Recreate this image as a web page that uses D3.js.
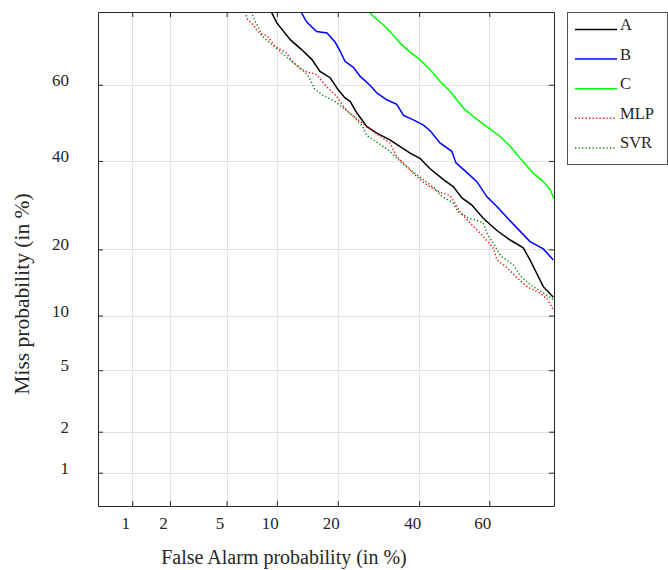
<!DOCTYPE html>
<html><head><meta charset="utf-8">
<script src="https://cdn.jsdelivr.net/npm/d3@7"></script>
<style>body{margin:0;background:#fff}svg{display:block}</style>
</head><body><svg id="c" width="668" height="570"></svg>
<script>
// ---- data (percent) ----
const tickValues = [1, 2, 5, 10, 20, 40, 60];
const tickLabels = ["1", "2", "5", "10", "20", "40", "60"];
const seriesNames = ["A", "B", "C", "MLP", "SVR"];

const A_fa   = [9.3,10.0,11.8,13.5,15.2,16.6,18.5,20.1,21.5,22.6,24.1,26.4,28.8,32.1,34.8,37.5,40.2,43.1,46.9,49.7,52.2,55.0,58.3,62.1,65.7,69.1,70.8,72.4,74.0,76.3];
const A_miss = [77.0,74.7,71.0,68.7,66.3,63.4,61.8,58.7,56.6,55.7,52.6,49.0,47.3,45.5,43.7,42.0,40.7,38.0,35.3,33.6,30.9,29.3,26.3,23.7,21.8,20.3,18.1,15.9,13.8,12.3];

const B_fa   = [13.4,14.3,16.0,17.9,19.5,20.5,21.5,23.3,24.8,27.2,28.8,31.3,33.9,35.7,38.4,41.2,43.1,45.9,49.3,50.5,53.6,56.5,59.3,62.1,64.8,67.4,70.8,74.0,76.3];
const B_miss = [77.0,74.9,72.8,72.5,70.4,68.3,65.9,64.4,62.2,59.8,57.9,56.1,54.9,52.0,50.8,49.4,47.9,44.7,42.5,39.5,37.1,34.8,31.2,28.9,26.5,24.3,21.5,20.1,18.1];

const C_fa   = [26.8,28.8,30.4,32.1,34.8,37.5,40.2,43.1,45.9,48.8,50.7,53.1,56.0,59.3,63.0,65.7,68.3,71.6,74.0,75.6,76.5];
const C_miss = [77.0,75.4,74.3,72.8,70.2,68.1,66.3,63.8,60.9,58.3,56.1,53.5,51.3,49.0,46.4,43.8,40.7,36.9,34.8,32.8,30.7];

const MLP_fa   = [6.6,6.7,7.3,7.8,8.9,9.8,11.3,12.1,13.3,14.3,16.0,17.9,19.8,21.2,22.6,24.4,26.4,29.6,32.1,33.9,36.6,39.3,42.5,45.9,48.8,51.7,54.5,57.9,61.1,62.1,64.8,67.4,70.3,73.2,75.0,76.3];
const MLP_miss = [77.0,75.6,74.3,72.8,71.7,69.4,67.9,65.8,64.1,63.3,62.6,59.4,57.0,54.3,52.4,50.8,49.0,46.4,44.7,41.1,38.6,36.0,33.8,32.2,31.4,27.7,25.3,22.8,20.3,18.1,16.8,15.2,13.7,12.9,12.0,10.7];

const SVR_fa   = [7.1,7.5,8.0,8.2,9.3,10.5,12.1,13.6,14.7,15.6,17.0,19.3,21.2,23.3,25.3,26.4,29.1,32.1,34.8,38.4,41.6,44.5,46.2,49.7,51.1,54.5,58.2,59.6,61.1,63.2,66.5,68.3,70.8,74.0,76.3];
const SVR_miss = [77.0,75.1,73.2,71.9,70.0,68.1,65.8,63.8,62.0,59.0,57.4,55.8,53.9,51.8,49.2,46.6,44.7,42.5,39.9,37.1,35.0,33.1,31.4,29.7,27.7,26.2,25.4,22.8,21.2,18.8,17.3,15.5,14.1,12.9,12.0];

const xDomainPct = [0.503, 76.45];
const yDomainPct = [0.542, 76.95];

// ---- normal deviate (probit) transform ----
function probit(p){
  const a=[-3.969683028665376e+01,2.209460984245205e+02,-2.759285104469687e+02,1.383577518672690e+02,-3.066479806614716e+01,2.506628277459239e+00];
  const b=[-5.447609879822406e+01,1.615858368580409e+02,-1.556989798598866e+02,6.680131188771972e+01,-1.328068155288572e+01];
  const c=[-7.784894002430293e-03,-3.223964580411365e-01,-2.400758277161838e+00,-2.549732539343734e+00,4.374664141464968e+00,2.938163982698783e+00];
  const d=[7.784695709041462e-03,3.224671290700398e-01,2.445134137142996e+00,3.754408661907416e+00];
  const pl=0.02425, ph=1-pl; let q,r;
  if(p<pl){q=Math.sqrt(-2*Math.log(p));return (((((c[0]*q+c[1])*q+c[2])*q+c[3])*q+c[4])*q+c[5])/((((d[0]*q+d[1])*q+d[2])*q+d[3])*q+1);}
  if(p<=ph){q=p-0.5;r=q*q;return (((((a[0]*r+a[1])*r+a[2])*r+a[3])*r+a[4])*r+a[5])*q/(((((b[0]*r+b[1])*r+b[2])*r+b[3])*r+b[4])*r+1);}
  q=Math.sqrt(-2*Math.log(1-p));return -(((((c[0]*q+c[1])*q+c[2])*q+c[3])*q+c[4])*q+c[5])/((((d[0]*q+d[1])*q+d[2])*q+d[3])*q+1);
}
const pz = v => probit(v/100);

// ---- layout ----
const L = 98, R = 554, T = 12, B = 506;
const svg = d3.select("#c");
const x = d3.scaleLinear().domain(xDomainPct.map(pz)).range([L, R]);
const y = d3.scaleLinear().domain(yDomainPct.map(pz)).range([B, T]);
const tz = tickValues.map(pz);
const font = "'Liberation Serif','Times New Roman',serif";
const axisColor = "#262626";

// grid
const grid = svg.append("g");
grid.selectAll("line.gx").data(tz).join("line")
  .attr("x1", d => Math.round(x(d)) + 0.5).attr("x2", d => Math.round(x(d)) + 0.5)
  .attr("y1", T).attr("y2", B).attr("stroke", "#e3e3e3").attr("stroke-width", 1);
grid.selectAll("line.gy").data(tz).join("line")
  .attr("y1", d => Math.round(y(d)) + 0.5).attr("y2", d => Math.round(y(d)) + 0.5)
  .attr("x1", L).attr("x2", R).attr("stroke", "#e3e3e3").attr("stroke-width", 1);

// curves
svg.append("clipPath").attr("id", "clip").append("rect")
  .attr("x", L).attr("y", T).attr("width", R - L).attr("height", B - T);
const series = [
  {name: "A",   fa: A_fa,   miss: A_miss,   color: "#000000", dash: null,  w: 1.5},
  {name: "B",   fa: B_fa,   miss: B_miss,   color: "#0000ff", dash: null,  w: 1.5},
  {name: "C",   fa: C_fa,   miss: C_miss,   color: "#00ff00", dash: null,  w: 1.5},
  {name: "MLP", fa: MLP_fa, miss: MLP_miss, color: "#ff0000", dash: "1.2,2.3", w: 1.5},
  {name: "SVR", fa: SVR_fa, miss: SVR_miss, color: "#008000", dash: "1.2,2.3", w: 1.5}
];
const line = d3.line().x(d => x(pz(d[0]))).y(d => y(pz(d[1])));
const cg = svg.append("g").attr("clip-path", "url(#clip)");
series.forEach(s => {
  cg.append("path").datum(s.fa.map((f, i) => [f, s.miss[i]]))
    .attr("d", line).attr("fill", "none").attr("stroke", s.color)
    .attr("stroke-width", s.w).attr("stroke-dasharray", s.dash)
    .attr("stroke-linejoin", "miter");
});

// axes
function styleAxis(g){
  g.select(".domain").attr("stroke", axisColor);
  g.selectAll(".tick line").attr("stroke", axisColor);
  g.selectAll("text").attr("font-family", font).attr("font-size", 17).attr("fill", axisColor);
}
const fmt = (d, i) => tickLabels[i];
svg.append("g").attr("transform", `translate(0,${B})`)
  .call(d3.axisBottom(x).tickValues(tz).tickFormat(fmt).tickSizeInner(-5).tickSizeOuter(0))
  .call(styleAxis)
  .call(g => g.selectAll("text").attr("y", 22.5).attr("dy", 0).attr("dx", -7));
svg.append("g").attr("transform", `translate(0,${T})`)
  .call(d3.axisTop(x).tickValues(tz).tickFormat("").tickSizeInner(-5).tickSizeOuter(0))
  .call(styleAxis);
svg.append("g").attr("transform", `translate(${L},0)`)
  .call(d3.axisLeft(y).tickValues(tz).tickFormat(fmt).tickSizeInner(-5).tickSizeOuter(0))
  .call(styleAxis)
  .call(g => g.selectAll("text").attr("x", -29).attr("dy", 0).attr("y", 0.5));
svg.append("g").attr("transform", `translate(${R},0)`)
  .call(d3.axisRight(y).tickValues(tz).tickFormat("").tickSizeInner(-5).tickSizeOuter(0))
  .call(styleAxis);

// titles
svg.append("text").attr("x", 284).attr("y", 564).attr("text-anchor", "middle")
  .attr("font-family", font).attr("font-size", 20).attr("fill", axisColor)
  .text("False Alarm probability (in %)");
svg.append("text").attr("transform", "translate(29,294) rotate(-90)").attr("text-anchor", "middle")
  .attr("font-family", font).attr("font-size", 21.5).attr("fill", axisColor)
  .text("Miss probability (in %)");

// legend
const lg = svg.append("g");
lg.append("rect").attr("x", 567.5).attr("y", 12.5).attr("width", 100).attr("height", 152)
  .attr("fill", "#fff").attr("stroke", "#555").attr("stroke-width", 1);
series.forEach((s, i) => {
  const yy = 29.5 + i * 29.6;
  lg.append("line").attr("x1", 575).attr("x2", 617).attr("y1", yy).attr("y2", yy)
    .attr("stroke", s.color).attr("stroke-width", s.w).attr("stroke-dasharray", s.dash);
  lg.append("text").attr("x", 620).attr("y", yy + 0.5).attr("font-family", font)
    .attr("font-size", 16.5).attr("fill", axisColor).text(s.name);
});
</script></body></html>
